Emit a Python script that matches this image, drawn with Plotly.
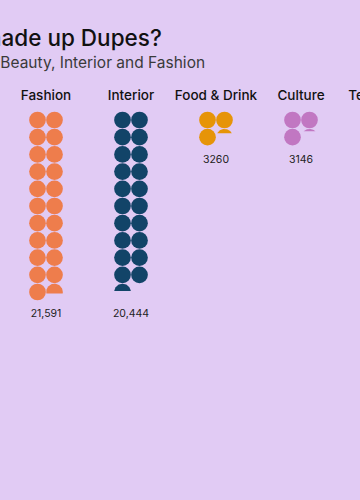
import numpy as np
import plotly.graph_objects as go

# ---- data ----
categories = ["Fashion", "Interior", "Food & Drink", "Culture", "Technology"]
values = [21591, 20444, 3260, 3146, 2900]
value_labels = ["21,591", "20,444", "3260", "3146", "2900"]
colors = ["#EE7D4C", "#124468", "#E69408", "#C177C2", "#3D8C6E"]
unit = 1000  # one circle = 1000 dupes

title_text = "What made up Dupes?"
subtitle_text = "Most dupes were in Beauty, Interior and Fashion"

# ---- geometry (pixel-to-axis scaling) ----
W, H = 360, 500
col_px = 85.0      # pixel distance between category columns
row_px = 17.2      # pixel distance between rows
x0_px = 46.0       # pixel centre of first column
y0_px = 120.0      # pixel centre of first row
diam = 16.7
r_x = diam / 2 / col_px
r_y = diam / 2 / row_px
dx = 8.5 / col_px

x_range = [-x0_px / col_px, (W - x0_px) / col_px]
y_range = [(H - y0_px) / row_px, -y0_px / row_px]

fig = go.Figure()

for i, (cat, val, col) in enumerate(zip(categories, values, colors)):
    n_full = int(val // unit)
    frac = (val % unit) / unit
    xs, ys = [], []
    for k in range(n_full):
        xs.append(i + (-dx if k % 2 == 0 else dx))
        ys.append(k // 2)
    fig.add_trace(go.Scatter(x=xs, y=ys, mode="markers",
                             marker=dict(size=diam, color=col, line=dict(width=0)),
                             hoverinfo="skip", showlegend=False))
    last_row = (n_full - 1) // 2
    if frac > 0:
        k = n_full
        cx = i + (-dx if k % 2 == 0 else dx)
        cy = k // 2
        last_row = cy
        h = -1 + 2 * frac
        th = np.linspace(np.pi - np.arcsin(h), 2 * np.pi + np.arcsin(h), 60)
        px = cx + r_x * np.cos(th)
        py = cy + r_y * np.sin(th)
        fig.add_trace(go.Scatter(x=list(px) + [px[0]], y=list(py) + [py[0]],
                                 mode="lines", fill="toself", fillcolor=col,
                                 line=dict(width=0, color=col),
                                 hoverinfo="skip", showlegend=False))
    # value label
    fig.add_trace(go.Scatter(x=[i], y=[last_row + 1.32], mode="text",
                             text=[value_labels[i]],
                             textfont=dict(family="Inter", size=10.5, color="#222222"),
                             hoverinfo="skip", showlegend=False))

# category labels
fig.add_trace(go.Scatter(x=list(range(len(categories))), y=[-1.33] * len(categories),
                         mode="text", text=categories,
                         textfont=dict(family="Inter", size=13.5, color="#111111", weight=500),
                         hoverinfo="skip", showlegend=False))

fig.add_annotation(text=title_text, xref="paper", yref="paper",
                   x=164 / W, y=1 - 38 / H, xanchor="right", yanchor="middle",
                   showarrow=False,
                   font=dict(family="Inter", size=22.5, color="#111111", weight=500))
fig.add_annotation(text=subtitle_text, xref="paper", yref="paper",
                   x=207 / W, y=1 - 62 / H, xanchor="right", yanchor="middle",
                   showarrow=False,
                   font=dict(family="Inter", size=15.5, color="#3a3a3a"))

fig.update_xaxes(range=x_range, visible=False, fixedrange=True)
fig.update_yaxes(range=y_range, visible=False, fixedrange=True)
fig.update_layout(width=W, height=H, margin=dict(l=0, r=0, t=0, b=0),
                  paper_bgcolor="#E1CBF4", plot_bgcolor="#E1CBF4")

fig.write_html("out.html", config={"displayModeBar": False},
               post_script="document.body.style.margin='0';document.body.style.background='#E1CBF4';")
